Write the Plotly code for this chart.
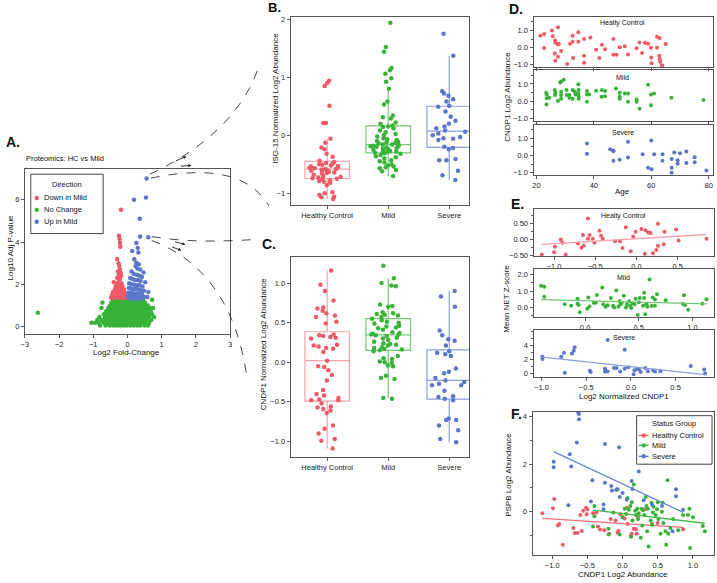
import plotly.graph_objects as go
import numpy as np

W, H = 717, 583
FONT = 'Liberation Sans, Arial, sans-serif'
RED, GREEN, BLUE = '#ee5a66', '#37b337', '#5a77cb'
RED_L, GREEN_L, BLUE_L = '#f5a2a9', '#72c972', '#8aa0dc'
AX = '#555555'

groups = ['Healthy Control', 'Mild', 'Severe']
directions = ['Down in Mild', 'No Change', 'Up in Mild']

# ---------------- A: volcano (log2 FC, -log10 adj p) ----------------
volcano_down = [(-0.19, 5.53), (-0.25, 4.3), (-0.23, 4.14), (-0.22, 3.95), (-0.21, 3.77),
                (-0.3, 3.2), (-0.26, 3.0), (-0.24, 2.87), (-0.22, 2.7), (-0.28, 2.6), (-0.2, 2.55),
                (-0.25, 2.45), (-0.18, 2.4), (-0.3, 2.3), (-0.22, 2.25), (-0.4, 2.1), (-0.27, 2.1),
                (-0.17, 2.05), (-0.33, 1.95), (-0.24, 1.95), (-0.15, 1.9), (-0.36, 1.8), (-0.28, 1.8),
                (-0.2, 1.78), (-0.1, 1.75), (-0.42, 1.65), (-0.32, 1.65), (-0.25, 1.62), (-0.17, 1.6),
                (-0.08, 1.6), (-0.45, 1.5), (-0.37, 1.5), (-0.3, 1.48), (-0.22, 1.5), (-0.14, 1.47),
                (-0.06, 1.45), (-0.48, 1.38), (-0.4, 1.37), (-0.33, 1.36), (-0.26, 1.38), (-0.18, 1.36),
                (-0.1, 1.37), (-0.04, 1.35)]
volcano_up = [(0.56, 7.0), (0.54, 6.1), (0.19, 6.0), (0.36, 5.1), (0.37, 4.26), (0.61, 4.23),
              (0.26, 3.95), (0.3, 3.72), (0.32, 3.5), (0.14, 3.57), (0.2, 3.18), (0.26, 3.02),
              (0.33, 2.95), (0.24, 2.85), (0.29, 2.75), (0.37, 2.7), (0.47, 2.56), (0.12, 2.6),
              (0.18, 2.5), (0.27, 2.45), (0.35, 2.4), (0.42, 2.35), (0.08, 2.3), (0.15, 2.25),
              (0.22, 2.2), (0.3, 2.2), (0.38, 2.15), (0.52, 2.1), (0.05, 2.05), (0.12, 2.0),
              (0.2, 1.98), (0.28, 1.95), (0.35, 1.95), (0.44, 1.9), (0.04, 1.82), (0.1, 1.8),
              (0.17, 1.78), (0.25, 1.78), (0.32, 1.75), (0.4, 1.72), (0.48, 1.7), (0.61, 1.63),
              (0.03, 1.6), (0.09, 1.6), (0.15, 1.58), (0.22, 1.57), (0.29, 1.56), (0.36, 1.55),
              (0.43, 1.52), (0.02, 1.42), (0.08, 1.42), (0.14, 1.4), (0.21, 1.4), (0.28, 1.4),
              (0.35, 1.38), (0.42, 1.38), (0.5, 1.4), (0.58, 1.4), (0.05, 1.33), (0.12, 1.33),
              (0.19, 1.34), (0.26, 1.33), (0.33, 1.32), (0.4, 1.33)]
# dense "no change" cloud, read row by row (p-level, fold changes)
volcano_none_rows = [
    (1.27, [-0.43, -0.34, -0.24, -0.14, -0.05, 0.05, 0.15, 0.26, 0.36, 0.46, 0.72]),
    (1.14, [-0.73, -0.47, -0.37, -0.28, -0.18, -0.09, 0.01, 0.11, 0.2, 0.31, 0.41, 0.51]),
    (1.0, [-0.51, -0.41, -0.31, -0.21, -0.11, -0.01, 0.09, 0.19, 0.29, 0.39, 0.49, 0.59]),
    (0.88, [-0.76, -0.56, -0.46, -0.36, -0.26, -0.16, -0.06, 0.04, 0.14, 0.24, 0.34, 0.44, 0.54, 0.65, 0.75]),
    (0.72, [-0.62, -0.52, -0.42, -0.32, -0.22, -0.12, -0.02, 0.08, 0.18, 0.28, 0.38, 0.48, 0.6, 0.68]),
    (0.58, [-0.69, -0.58, -0.48, -0.38, -0.28, -0.18, -0.08, 0.02, 0.12, 0.22, 0.32, 0.42, 0.52, 0.62, 0.72]),
    (0.45, [-0.82, -0.66, -0.55, -0.45, -0.35, -0.25, -0.15, -0.05, 0.05, 0.15, 0.25, 0.35, 0.45, 0.55, 0.64, 0.78]),
    (0.31, [-0.88, -0.75, -0.63, -0.52, -0.42, -0.32, -0.22, -0.12, -0.02, 0.08, 0.18, 0.28, 0.38, 0.48, 0.58, 0.7]),
    (0.18, [-1.05, -0.95, -0.84, -0.7, -0.59, -0.48, -0.38, -0.28, -0.18, -0.08, 0.02, 0.12, 0.22, 0.32, 0.42, 0.52, 0.63]),
    (0.05, [-0.8, -0.64, -0.52, -0.42, -0.32, -0.22, -0.12, -0.02, 0.08, 0.18, 0.28, 0.38, 0.5, 0.6]),
]
volcano_none_extra = [(-2.62, 0.65)]

# ---------------- B / C: box plots ----------------
isg15_hc = [0.94, 0.90, 0.85, 0.51, 0.21, 0.21, -0.06, -0.13, -0.21, -0.24, -0.32, -0.37,
            -0.44, -0.46, -0.48, -0.49, -0.50, -0.51, -0.52, -0.53, -0.54, -0.55, -0.56, -0.57, -0.58,
            -0.58, -0.59, -0.60, -0.61, -0.62, -0.63, -0.64, -0.65, -0.66, -0.68, -0.70, -0.72, -0.73,
            -0.74, -0.75, -0.76, -0.78, -0.79, -0.80, -0.82, -0.86, -0.98, -1.0, -1.03, -1.06, -1.07, -1.10]
isg15_mild = [1.94, 1.52, 1.44, 1.16, 1.12, 1.06, 0.98, 0.92, 0.80, 0.58, 0.53, 0.34, 0.31, 0.29, 0.22, 0.20, 0.17,
              0.15, 0.14, 0.12, 0.08, 0.05, 0.02, 0.0, -0.02, -0.05, -0.07, -0.08, -0.10, -0.11, -0.12, -0.13, -0.14, -0.16,
              -0.16, -0.17, -0.18, -0.19, -0.19, -0.20, -0.21, -0.22, -0.23, -0.24, -0.25, -0.26, -0.27, -0.28, -0.28, -0.29, -0.30,
              -0.31, -0.32, -0.34, -0.36, -0.38, -0.40, -0.43, -0.45, -0.47, -0.50, -0.52, -0.54, -0.55, -0.57, -0.60, -0.62, -0.70]
isg15_severe = [1.75, 1.37, 0.76, 0.72, 0.68, 0.62, 0.58, 0.51, 0.49, 0.41, 0.32, 0.25, 0.20, 0.15, 0.12, 0.08,
                0.06, 0.03, 0.0, -0.03, -0.05, -0.06, -0.08, -0.20, -0.22, -0.24, -0.41, -0.43, -0.43, -0.61, -0.69, -0.77]

cndp1_hc = [1.16, 0.98, 0.90, 0.78, 0.69, 0.68, 0.65, 0.62, 0.59, 0.57, 0.51, 0.49, 0.35, 0.34, 0.33, 0.32, 0.31,
            0.30, 0.22, 0.21, 0.20, 0.18, 0.17, 0.13, 0.02, -0.05, -0.06, -0.10, -0.16, -0.23, -0.35, -0.40, -0.42,
            -0.45, -0.47, -0.48, -0.48, -0.52, -0.56, -0.57, -0.59, -0.61, -0.64, -0.80, -0.84, -0.90, -0.97, -0.99, -1.09]
cndp1_mild = [1.22, 1.06, 1.00, 0.97, 0.96, 0.73, 0.71, 0.70, 0.63, 0.62, 0.61, 0.60, 0.59, 0.57, 0.55, 0.53, 0.51,
              0.50, 0.49, 0.46, 0.45, 0.44, 0.43, 0.41, 0.38, 0.37, 0.36, 0.35, 0.35, 0.34, 0.33, 0.31, 0.30, 0.28,
              0.26, 0.24, 0.23, 0.22, 0.21, 0.19, 0.18, 0.17, 0.16, 0.15, 0.14, 0.08, 0.05, 0.04, 0.01, 0.0, -0.01,
              -0.04, -0.05, -0.17, -0.20, -0.21, -0.45, -0.46]
cndp1_severe = [0.90, 0.83, 0.70, 0.40, 0.34, 0.29, 0.27, 0.21, 0.14, 0.12, 0.10, 0.08, -0.08, -0.12, -0.14, -0.20,
                -0.23, -0.25, -0.27, -0.29, -0.29, -0.36, -0.43, -0.44, -0.46, -0.48, -0.71, -0.73, -0.73, -0.80,
                -0.86, -0.97, -1.01]

# ---------------- D: CNDP1 vs age ----------------
age_hc = [21.4, 22.7, 22.7, 25.4, 25.7, 26.5, 26.6, 27.5, 27.8, 27.5, 26.4, 26.6, 27.5, 28.6, 30.7, 31.7, 32.6,
          32.6, 32.8, 34.6, 34.6, 36.6, 36.6, 36.6, 38.8, 40.8, 41.9, 42.8, 43.9, 46.8, 46.8, 47.9, 49.0, 50.8,
          51.9, 54.9, 55.9, 56.8, 57.8, 58.9, 59.9, 60.0, 60.1, 62.0, 62.9, 62.0, 62.8, 62.9, 63.1, 63.7, 63.9, 65.0]
age_hc_cndp1 = [0.7, 0.8, -0.02, 1.0, 0.67, 0.42, 0.29, 0.19, 0.23, 1.19, -0.34, -0.76, -0.53, -0.19, -0.95, 0.23,
                0.7, 0.34, -0.61, 0.9, 0.34, 0.51, -0.48, -0.88, 0.6, -0.13, -0.61, 0.17, -0.1, 0.51, -0.42, -0.42,
                0.02, 0.08, -0.4, -0.04, 0.3, -0.32, 0.29, 0.23, 0.0, -0.57, -0.91, 0.63, 0.57, 0.0, -0.48, -0.67,
                -0.82, -1.05, -1.05, 0.21]
age_mild = [23.4, 23.6, 23.6, 23.5, 24.5, 26.4, 26.6, 26.5, 27.5, 28.3, 28.6, 29.5, 28.6, 28.6, 28.6, 30.5, 30.5,
            31.5, 31.5, 32.6, 32.6, 33.4, 33.6, 34.6, 34.6, 34.7, 34.7, 34.7, 37.6, 37.6, 37.6, 38.4, 40.8, 42.8,
            42.7, 43.9, 43.9, 47.7, 49.0, 49.0, 49.0, 50.8, 51.9, 51.9, 54.9, 54.9, 55.9, 58.9, 59.9, 61.0, 59.9,
            67.0, 78.2]
age_mild_cndp1 = [0.49, 0.39, 0.16, -0.2, 0.2, 0.65, 0.49, 0.35, 0.0, 1.08, 1.14, 1.24, 0.55, 0.35, 0.14, 0.65,
                  0.35, 0.35, 0.2, 0.65, 0.14, 0.55, 0.39, 0.45, 0.98, 0.65, 0.25, 0.14, 0.59, 0.39, -0.04, 0.39,
                  0.61, 0.65, 0.25, 0.29, 0.59, 0.73, 0.49, 0.25, 0.14, 0.45, 0.45, -0.04, 0.1, -0.04, -0.45, 0.96,
                  0.39, 0.45, -0.24, 0.2, 0.06]
age_severe = [37.6, 37.6, 45.7, 46.8, 46.8, 46.8, 49.0, 51.9, 51.9, 57.0, 60.0, 58.9, 60.1, 61.0, 63.9, 63.9,
              67.1, 67.1, 67.1, 68.0, 69.2, 69.2, 70.0, 72.2, 72.2, 75.1, 75.1, 79.2]
age_severe_cndp1 = [0.7, 0.1, 0.37, 0.3, 0.25, -0.3, -0.25, 0.8, -0.12, 0.08, 0.88, -0.72, -0.8, 0.08, 0.08,
                    -0.3, -0.2, -0.72, -1.0, 0.17, -0.27, -0.48, 0.13, 0.23, -0.44, -0.1, -0.4, -0.88]

# ---------------- E: NET z-score vs CNDP1 ----------------
net_hc = [(-1.15, -0.46), (-0.99, -0.22), (-1.0, -0.39), (-0.92, 0.01), (-0.9, -0.09), (-0.86, -0.46),
          (-0.71, -0.12), (-0.67, -0.25), (-0.64, -0.19), (-0.65, 0.15), (-0.59, 0.67), (-0.59, 0.03),
          (-0.57, 0.15), (-0.53, 0.03), (-0.51, -0.09), (-0.45, 0.28), (-0.43, 0.13), (-0.41, 0.03),
          (-0.26, -0.05), (-0.2, -0.05), (-0.17, -0.26), (-0.13, 0.39), (-0.07, -0.36), (-0.04, 0.1),
          (-0.01, 0.25), (0.06, 0.34), (0.1, -0.44), (0.11, 0.3), (0.14, 0.23), (0.17, 0.21), (0.2, -0.42),
          (0.24, -0.32), (0.26, 0.5), (0.26, -0.19), (0.33, -0.14), (0.34, 0.25), (0.48, 0.32), (0.51, -0.02),
          (0.85, 0.03)]
net_mild = [(-0.41, 1.33), (-0.38, 1.26), (-0.38, 0.65), (-0.19, 0.19), (-0.13, 0.1), (-0.07, 0.53),
            (-0.07, 0.23), (-0.06, 0.15), (-0.05, -0.3), (0.02, -0.08), (0.03, 0.61), (0.04, 0.06), (0.08, 0.29),
            (0.1, 0.29), (0.11, 0.76), (0.16, 1.22), (0.17, 0.19), (0.19, 0.04), (0.21, 0.13), (0.24, 0.57),
            (0.26, 0.1), (0.27, 0.0), (0.29, 1.03), (0.31, 0.04), (0.32, 0.38), (0.33, 0.19), (0.34, 0.29),
            (0.36, 0.72), (0.38, 0.0), (0.39, 0.19), (0.41, 0.38), (0.42, 0.08), (0.43, -0.04), (0.44, 0.25),
            (0.46, 0.19), (0.47, 0.53), (0.49, -0.46), (0.5, 0.32), (0.51, 0.57), (0.54, 0.1), (0.55, 0.9),
            (0.55, 0.57), (0.56, -0.42), (0.57, 0.19), (0.58, 0.04), (0.6, 1.71), (0.62, 0.08), (0.63, 0.61),
            (0.65, 0.48), (0.65, 0.1), (0.67, 0.8), (0.75, 0.44), (0.91, 0.23), (0.92, 0.74), (0.93, 0.13),
            (0.96, -0.15), (1.09, 0.23), (1.13, 0.5)]
net_severe = [(-0.99, 2.39), (-0.99, 2.09), (-0.78, 2.39), (-0.75, 2.96), (-0.74, 0.13), (-0.66, 2.87),
              (-0.64, 3.26), (-0.63, 3.74), (-0.46, 0.39), (-0.45, 0.22), (-0.29, 0.7), (-0.29, 0.3),
              (-0.26, 0.3), (-0.26, 4.78), (-0.19, 0.78), (-0.16, 0.78), (-0.12, 0.3), (-0.07, 3.39),
              (-0.07, 0.7), (-0.03, 0.91), (0.03, -0.09), (0.04, 0.48), (0.07, 0.7), (0.09, 0.57), (0.11, 0.22),
              (0.16, 0.78), (0.19, 0.35), (0.25, 0.43), (0.27, 0.3), (0.33, 0.35), (0.67, 1.09), (0.82, 0.57),
              (0.83, 0.0)]

# ---------------- F: PSPB vs CNDP1 ----------------
pspb_hc = [(-1.14, -0.07), (-0.97, 0.53), (-0.99, 0.14), (-0.9, -0.52), (-0.92, -0.59), (-0.85, -1.4),
           (-0.7, -0.69), (-0.68, -0.9), (-0.64, -0.9), (-0.58, -0.82), (-0.6, -0.15), (-0.56, 0.03),
           (-0.52, 0.16), (-0.5, 0.1), (-0.51, -0.11), (-0.42, -0.07), (-0.37, -0.04), (-0.35, -0.63),
           (-0.32, -0.76), (-0.26, -0.79), (-0.19, -0.94), (-0.17, -0.31), (-0.1, -0.38), (-0.07, -0.88),
           (-0.06, -0.82), (-0.03, -0.11), (0.03, -0.29), (0.06, 0.15), (0.07, -0.52), (0.12, -1.02),
           (0.13, -0.93), (0.16, -0.72), (0.19, -0.75), (0.2, -0.93), (0.22, -0.2), (0.32, 0.1), (0.42, -0.52),
           (0.5, -0.48), (0.86, -0.75)]
pspb_mild = [(-0.4, 0.23), (-0.42, -0.63), (-0.4, -0.2), (-0.2, -0.72), (-0.2, -0.97), (-0.13, -0.04),
             (-0.09, 0.91), (-0.07, 0.94), (-0.04, -0.97), (0.0, -0.24), (0.03, 0.12), (0.05, -0.1), (0.07, 0.57),
             (0.09, 0.07), (0.11, 0.23), (0.12, -1.06), (0.13, 0.39), (0.14, -0.38), (0.16, 1.14), (0.18, 0.03),
             (0.19, -0.15), (0.21, 0.12), (0.22, -0.31), (0.23, -0.07), (0.26, -1.1), (0.27, 0.12), (0.28, -0.59),
             (0.29, 0.05), (0.31, -0.15), (0.33, 0.61), (0.34, 0.23), (0.35, -0.83), (0.36, 0.12), (0.37, -1.47),
             (0.4, -0.38), (0.41, 0.37), (0.42, -0.56), (0.43, -0.04), (0.44, 0.2), (0.47, -0.15), (0.49, 0.1),
             (0.5, 0.39), (0.51, -0.31), (0.54, -0.93), (0.56, -0.01), (0.57, 0.37), (0.58, -0.48), (0.61, -0.83),
             (0.62, -1.4), (0.64, 1.32), (0.65, -0.93), (0.68, -0.69), (0.72, -0.31), (0.79, -0.79), (0.86, -0.15),
             (0.93, -0.15), (0.95, 0.12), (0.96, -1.54), (1.0, -0.24), (1.14, -0.61), (1.17, -0.83)]
pspb_severe = [(-0.63, 4.16), (-0.62, 4.1), (-0.62, 3.88), (-0.65, 2.91), (-0.98, 2.1), (-0.98, 1.86),
               (-0.75, 2.41), (-0.73, 1.89), (-0.25, 2.84), (-0.05, 2.71), (-0.43, 1.32), (-0.25, 1.21),
               (-0.16, 1.07), (-0.15, 0.88), (-0.08, 0.94), (0.0, 0.78), (-0.04, 0.61), (0.06, 0.5), (0.13, 1.28),
               (0.14, 0.95), (0.23, 1.69), (0.3, 0.48), (0.42, 0.3), (0.56, 0.23), (-0.77, 0.26), (-0.45, 0.42),
               (-0.27, 0.3), (-0.27, 0.1), (0.76, 0.94), (0.86, 0.07), (0.71, -0.83), (0.76, 0.64)]


def fx(p):
    return p / W


def fy(p):
    return 1 - p / H


def unzip(pairs):
    a = np.array(pairs, dtype=float)
    return a[:, 0], a[:, 1]


def fit(pairs):
    x, y = unzip(pairs)
    b, a = np.polyfit(x, y, 1)
    xs = np.array([x.min(), x.max()])
    return xs, a + b * xs


fig = go.Figure()
axes = {}
BASE = dict(showline=True, linecolor=AX, linewidth=1, mirror=True, ticks='outside', ticklen=3,
            tickwidth=1, tickcolor=AX, showgrid=False, zeroline=False,
            tickfont=dict(size=7.5, color='#222', family=FONT))


def add_axes(n, left, right, top, bottom, xkw, ykw):
    s = '' if n == 1 else str(n)
    axes['xaxis' + s] = dict(BASE, domain=[fx(left), fx(right)], anchor='y' + s, **xkw)
    axes['yaxis' + s] = dict(BASE, domain=[fy(bottom), fy(top)], anchor='x' + s, **ykw)
    return 'x' + s, 'y' + s


# ---- A
xa, ya = add_axes(1, 21, 228, 169, 335,
                  dict(range=[-3, 3], tickvals=[-3, -2, -1, 0, 1, 2, 3]),
                  dict(range=[-0.33, 7.44], tickvals=[0, 2, 4, 6]))
none_pts = [(fc, p) for p, row in volcano_none_rows for fc in row] + volcano_none_extra
for pts, col in [(none_pts, GREEN), (volcano_down, RED), (volcano_up, BLUE)]:
    x, y = unzip(pts)
    fig.add_trace(go.Scatter(x=x, y=y, mode='markers', showlegend=False,
                             marker=dict(color=col, size=4.5), xaxis=xa, yaxis=ya))

# ---- B and C box plots
box_sets = [
    (2, 15, 205, [-1.2, 2.04], dict(tickvals=[-1, 0, 1, 2]), [isg15_hc, isg15_mild, isg15_severe]),
    (3, 258, 460, [-1.2, 1.325], dict(tickvals=[-1, -0.5, 0, 0.5, 1], tickformat='.1f'),
     [cndp1_hc, cndp1_mild, cndp1_severe]),
]
for n, top, bottom, yr, ykw, data in box_sets:
    xs, ys = add_axes(n, 289, 469, top, bottom,
                      dict(type='category', range=[-0.6, 2.325], categoryorder='array', categoryarray=groups),
                      dict(range=yr, **ykw))
    for g, vals, col, lcol in zip(groups, data, [RED, GREEN, BLUE], [RED_L, GREEN_L, BLUE_L]):
        fig.add_trace(go.Box(x=[g] * len(vals), y=vals, boxpoints='all', jitter=0.85, pointpos=0,
                             width=0.73, whiskerwidth=0, fillcolor='rgba(0,0,0,0)',
                             line=dict(color=lcol, width=1.2), marker=dict(color=col, size=4.5),
                             showlegend=False, xaxis=xs, yaxis=ys, hoverinfo='y'))

# ---- D: three age panels
d_sets = [(4, 15, 66, age_hc, age_hc_cndp1, RED), (5, 69, 120, age_mild, age_mild_cndp1, GREEN),
          (6, 124, 175, age_severe, age_severe_cndp1, BLUE)]
for n, top, bottom, ages, vals, col in d_sets:
    xs, ys = add_axes(n, 534, 715, top, bottom,
                      dict(range=[19, 81.5], tickvals=[20, 40, 60, 80], showticklabels=(n == 6)),
                      dict(range=[-1.15, 1.8], tickvals=[-1, 0, 1], tickformat='.1f',
                           minor=dict(ticks='outside', ticklen=2, dtick=0.5, tickcolor=AX)))
    fig.add_trace(go.Scatter(x=ages, y=vals, mode='markers', marker=dict(color=col, size=4),
                             showlegend=False, xaxis=xs, yaxis=ys))

# ---- E: three NET panels with fits
e_sets = [
    (7, 209, 257, net_hc, RED, RED_L, dict(range=[-1.25, 0.94], tickvals=[-1, -0.5, 0, 0.5]),
     dict(range=[-0.52, 0.97], tickvals=[-0.5, 0, 0.5], tickformat='.2f', minor=dict(dtick=0.25))),
    (8, 270, 318, net_mild, GREEN, GREEN_L, dict(range=[-0.48, 1.2], tickvals=[0, 0.5, 1]),
     dict(range=[-0.57, 2.34], tickvals=[0, 1, 2], tickformat='.1f', minor=dict(dtick=0.5))),
    (9, 331, 379, net_severe, BLUE, BLUE_L, dict(range=[-1.09, 0.93], tickvals=[-1, -0.5, 0, 0.5]),
     dict(range=[-0.5, 6.27], tickvals=[0, 2, 4], minor=dict(dtick=1))),
]
for n, top, bottom, pts, col, lcol, xkw, ykw in e_sets:
    ykw['minor'].update(ticks='outside', ticklen=2, tickcolor=AX)
    xs, ys = add_axes(n, 534, 716, top, bottom, dict(xkw, tickformat='.1f'), ykw)
    x, y = unzip(pts)
    fig.add_trace(go.Scatter(x=x, y=y, mode='markers', marker=dict(color=col, size=4),
                             showlegend=False, xaxis=xs, yaxis=ys))
    lx, ly = fit(pts)
    fig.add_trace(go.Scatter(x=lx, y=ly, mode='lines', line=dict(color=lcol, width=1.3),
                             showlegend=False, xaxis=xs, yaxis=ys))

# ---- F
xf, yf = add_axes(10, 533, 716, 414, 559,
                  dict(range=[-1.28, 1.3], tickvals=[-1, -0.5, 0, 0.5, 1], tickformat='.1f'),
                  dict(range=[-1.84, 4.2], tickvals=[0, 2, 4],
                       minor=dict(ticks='outside', ticklen=2, dtick=1, tickcolor=AX)))
f_line_cols = ['#f0707a', '#45b845', '#6b86d4']
for pts, col, lcol in zip([pspb_hc, pspb_mild, pspb_severe], [RED, GREEN, BLUE], f_line_cols):
    x, y = unzip(pts)
    fig.add_trace(go.Scatter(x=x, y=y, mode='markers', marker=dict(color=col, size=4),
                             showlegend=False, xaxis=xf, yaxis=yf))
    lx, ly = fit(pts)
    fig.add_trace(go.Scatter(x=lx, y=ly, mode='lines', line=dict(color=lcol, width=1.3),
                             showlegend=False, xaxis=xf, yaxis=yf))


# ---- text
def txt(x, y, s, size=8, angle=0, xanchor='center', bold=False):
    return dict(x=fx(x), y=fy(y), xref='paper', yref='paper', text=('<b>%s</b>' % s) if bold else s,
                showarrow=False, textangle=angle, xanchor=xanchor, yanchor='middle',
                font=dict(size=size, family=FONT, color='#111'))


ann = [
    txt(0, 141, 'A.', 14, xanchor='left', bold=True),
    txt(264, 6, 'B.', 13, xanchor='left', bold=True),
    txt(258, 245, 'C.', 14, xanchor='left', bold=True),
    txt(507, 7, 'D.', 14, xanchor='left', bold=True),
    txt(509, 204, 'E.', 14, xanchor='left', bold=True),
    txt(509, 416, 'F.', 14, xanchor='left', bold=True),
    txt(20, 158, 'Proteomics: HC vs Mild', 7.5, xanchor='left'),
    txt(6, 248, 'Log10 Adj P-value', 8, -90),
    txt(124, 354, 'Log2 Fold-Change', 8),
    txt(273, 97, 'ISG-15 Normalized Log2 Abundance', 8, -90),
    txt(262, 345, 'CNDP1 Normalized Log2 Abundance', 8, -90),
    txt(507, 96, 'CNDP1 Log2 Abundance', 8, -90),
    txt(624, 191, 'Age', 8),
    txt(624, 21, 'Healty Control', 7),
    txt(624, 76, 'Mild', 7),
    txt(624, 132, 'Severe', 7),
    txt(507, 300, 'Mean NET Z-score', 8, -90),
    txt(625, 216, 'Healty Control', 7),
    txt(625, 278, 'Mild', 7),
    txt(625, 339, 'Severe', 7),
    txt(625, 399, 'Log2 Normalized CNDP1', 8),
    txt(508, 478, 'PSPB Log2 Abundance', 8, -90),
    txt(624, 578, 'CNDP1 Log2 Abundance', 8),
]
for (hx, hy), (tx, ty) in [((184, 156), (172, 161)), ((189, 165), (177, 166)),
                           ((183, 245), (171, 242)), ((179, 251), (168, 247))]:
    ann.append(dict(x=fx(hx), y=fy(hy), xref='paper', yref='paper', ax=tx - hx, ay=ty - hy,
                    axref='pixel', ayref='pixel', text='', showarrow=True, arrowhead=2,
                    arrowsize=0.7, arrowwidth=0.9, arrowcolor='#222'))


def curve(*pts):
    p = ['%.4f,%.4f' % (fx(a), fy(b)) for a, b in pts]
    return 'M %s C %s %s %s' % tuple(p)


shapes = [dict(type='path', xref='paper', yref='paper', path=curve(*c),
               line=dict(color='#333', width=0.9, dash='dash'))
          for c in [((147, 174), (195, 152), (242, 115), (258, 62)),
                    ((148, 178), (195, 168), (245, 168), (267, 206)),
                    ((149, 237), (185, 243), (220, 242), (252, 240)),
                    ((149, 241), (200, 260), (235, 305), (245, 380))]]


# ---- legends (drawn as boxes, dots and labels)
def legend_box(left, top, right, bottom, title, title_y, labels, colors, row_ys, sym_x, text_x, with_line):
    shapes.append(dict(type='rect', xref='paper', yref='paper', x0=fx(left), x1=fx(right),
                       y0=fy(bottom), y1=fy(top), line=dict(color='#444', width=1), fillcolor='white'))
    ann.append(txt((left + right) / 2, title_y, title, 7.5))
    for lab, col, yy in zip(labels, colors, row_ys):
        if with_line:
            shapes.append(dict(type='line', xref='paper', yref='paper', x0=fx(sym_x - 5), x1=fx(sym_x + 5),
                               y0=fy(yy), y1=fy(yy), line=dict(color=col, width=1.3)))
        shapes.append(dict(type='circle', xref='paper', yref='paper', x0=fx(sym_x - 2.2), x1=fx(sym_x + 2.2),
                           y0=fy(yy + 2.2), y1=fy(yy - 2.2), fillcolor=col, line=dict(width=0)))
        ann.append(txt(text_x, yy, lab, 7.5, xanchor='left'))


legend_box(27, 174, 100, 234, 'Direction', 184, directions, [RED, GREEN, BLUE],
           [198, 210, 222], 33, 38, False)
legend_box(638, 418, 714, 467, 'Status Group', 426, groups, [RED, GREEN, BLUE],
           [438, 448, 459], 645, 651, True)

fig.update_layout(
    width=W, height=H, margin=dict(l=0, r=0, t=0, b=0),
    paper_bgcolor='white', plot_bgcolor='white',
    font=dict(family=FONT, size=8, color='#222'),
    boxmode='overlay', showlegend=False,
    annotations=ann, shapes=shapes,
    **axes,
)

# the page body keeps its default 8px margin otherwise, which shifts the figure
fig.write_html('out.html', config={'displayModeBar': False},
               post_script="document.body.style.margin='0';document.body.style.overflow='hidden';")
